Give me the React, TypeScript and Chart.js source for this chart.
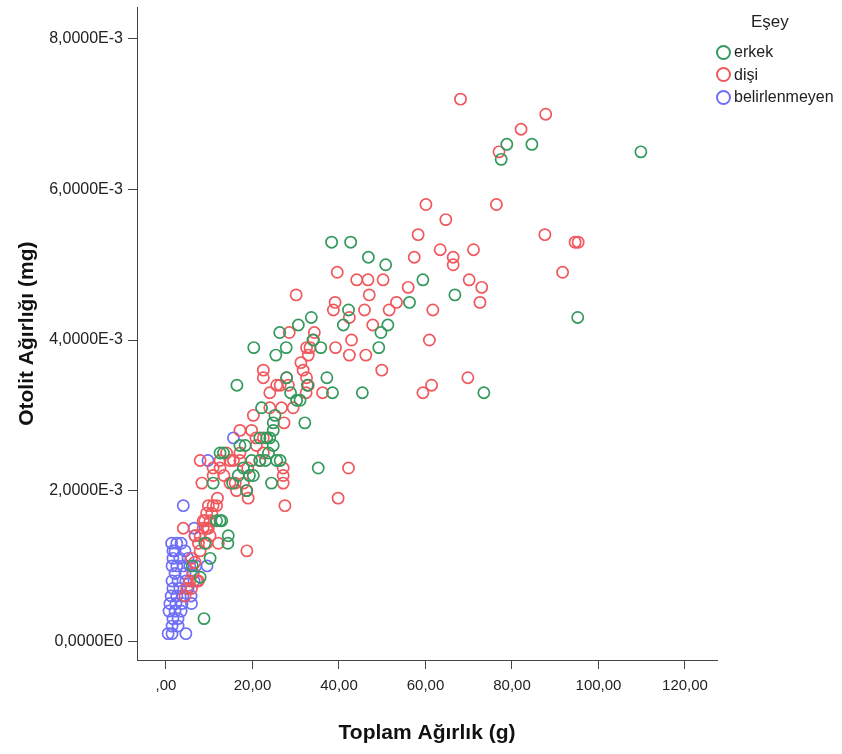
import React, { useEffect, useRef } from 'react';
import { Chart, registerables } from 'chart.js';

Chart.register(...registerables);

const Y_UNIT = 1e-3;
const xTickValues = [0, 20, 40, 60, 80, 100, 120];
const xTickLabels = [',00', '20,00', '40,00', '60,00', '80,00', '100,00', '120,00'];
const yTickValues = [0, 2, 4, 6, 8];
const yTickLabels = ['0,0000E0', '2,0000E-3', '4,0000E-3', '6,0000E-3', '8,0000E-3'];
const seriesNames = ['erkek', 'dişi', 'belirlenmeyen'];
const seriesColors = ['#33995c', '#f0585d', '#6e6ef7'];

// [Toplam Ağırlık (g), Otolit Ağırlığı (×1e-3 mg)]
const erkek: number[][] = [
  [109.8, 6.5], [84.6, 6.6], [78.8, 6.6], [77.5, 6.4], [95.2, 4.3], [73.5, 3.3], [66.8, 4.6],
  [38.3, 5.3], [42.7, 5.3], [46.8, 5.1], [50.8, 5.0], [59.4, 4.8], [56.3, 4.5], [42.2, 4.4], [41.0, 4.2], [51.3, 4.2], [49.7, 4.1], [49.2, 3.9],
  [33.6, 4.3], [30.6, 4.2], [26.3, 4.1], [27.8, 3.9], [35.8, 3.9], [34.0, 4.0], [20.3, 3.9], [25.4, 3.8],
  [37.2, 3.5], [32.7, 3.4], [38.5, 3.3], [45.4, 3.3], [28.8, 3.3], [30.2, 3.2], [32.1, 2.9], [35.2, 2.3], [26.4, 2.4], [16.4, 3.4], [27.9, 3.5], [31.0, 3.2],
  [22.1, 3.1], [25.2, 3.0], [24.8, 2.9], [24.8, 2.8], [24.8, 2.6], [25.6, 2.4],
  [21.7, 2.7], [23.3, 2.7], [24.0, 2.7], [18.3, 2.6], [17.1, 2.6], [23.7, 2.5], [21.7, 2.4], [19.8, 2.4], [17.9, 2.3], [16.7, 2.2], [19.3, 2.2], [20.2, 2.2], [24.4, 2.1],
  [13.3, 2.5], [12.5, 2.5], [10.9, 2.1], [12.9, 1.6], [12.5, 1.6], [14.4, 1.4], [14.3, 1.3], [11.7, 1.6], [9.0, 1.3], [10.2, 1.1], [6.1, 1.0], [7.9, 0.85], [8.8, 0.3],
  [18.6, 2.0], [15.4, 2.1], [23.0, 2.4],
];

const disi: number[][] = [
  [68.1, 7.2], [87.8, 7.0], [82.1, 6.8], [77.0, 6.5], [76.4, 5.8], [60.1, 5.8], [64.7, 5.6], [87.6, 5.4], [58.3, 5.4], [94.6, 5.3], [95.3, 5.3],
  [71.1, 5.2], [63.4, 5.2], [66.4, 5.1], [57.4, 5.1], [66.4, 5.0], [91.7, 4.9], [39.6, 4.9], [44.1, 4.8], [46.7, 4.8], [50.2, 4.8], [70.1, 4.8],
  [73.0, 4.7], [56.0, 4.7], [47.0, 4.6], [30.1, 4.6], [72.6, 4.5], [39.1, 4.5], [53.3, 4.5], [38.7, 4.4], [45.9, 4.4], [51.6, 4.4], [61.7, 4.4],
  [42.4, 4.3], [47.8, 4.2], [34.3, 4.1], [28.5, 4.1], [42.9, 4.0], [60.9, 4.0], [34.1, 4.0], [32.5, 3.9], [33.3, 3.9], [39.2, 3.9], [32.9, 3.8],
  [42.4, 3.8], [46.2, 3.8], [49.9, 3.6], [31.2, 3.7], [31.7, 3.6], [32.5, 3.5], [27.9, 3.5], [36.2, 3.3], [32.4, 3.3], [32.9, 3.4], [59.4, 3.3],
  [61.4, 3.4], [69.8, 3.5],
  [26.4, 3.4], [25.6, 3.4], [28.3, 3.4], [29.4, 3.1], [26.7, 3.1], [24.0, 3.1], [27.3, 2.9], [42.2, 2.3], [27.1, 2.3], [27.1, 2.2], [27.1, 2.1],
  [39.8, 1.9], [27.5, 1.8],
  [22.5, 3.6], [22.5, 3.5], [24.0, 3.3], [20.2, 3.0], [17.1, 2.8], [19.8, 2.8], [20.8, 2.7], [22.5, 2.7], [22.5, 2.5], [21.7, 2.4], [17.1, 2.4],
  [17.1, 2.5], [14.0, 2.5], [14.8, 2.4], [12.5, 2.4], [10.9, 2.3], [12.5, 2.3], [7.9, 2.4], [10.9, 2.2], [8.3, 2.1], [14.8, 2.1], [16.0, 2.1],
  [17.9, 2.1], [18.7, 2.0], [16.3, 2.0], [19.0, 1.9], [11.9, 1.9], [9.8, 1.8], [10.9, 1.8], [11.7, 1.8], [9.4, 1.7], [10.6, 1.7], [8.6, 1.6],
  [10.2, 1.6], [9.0, 1.6], [9.4, 1.5], [8.6, 1.5], [9.8, 1.5], [4.0, 1.5], [7.9, 1.4], [10.2, 1.4], [6.7, 1.4], [7.5, 1.3], [9.4, 1.3], [12.1, 1.3],
  [18.7, 1.2], [7.9, 1.2], [5.9, 1.1], [6.7, 1.05], [6.3, 0.9], [7.5, 0.8], [7.1, 0.8], [5.5, 0.8], [5.9, 0.7], [4.8, 0.7], [4.4, 0.6],
  [13.4, 2.2], [15.6, 2.4], [20.9, 2.6], [18.9, 2.3],
];

const belirlenmeyen: number[][] = [
  [4.0, 1.8], [6.5, 1.5], [6.7, 1.4], [15.6, 2.7], [9.7, 2.4], [9.5, 1.0],
  [2.5, 1.3], [3.5, 1.3], [1.3, 1.3], [4.4, 1.2], [1.6, 1.2], [2.1, 1.2],
  [1.6, 1.1], [3.2, 1.1], [5.1, 1.1],
  [1.4, 1.0], [2.5, 1.0], [4.0, 1.0], [5.5, 1.0], [6.9, 1.0],
  [2.1, 0.9], [4.4, 0.9], [6.2, 0.9],
  [1.4, 0.8], [2.8, 0.8], [4.6, 0.8], [6.5, 0.8],
  [1.6, 0.7], [3.2, 0.7], [5.1, 0.7],
  [1.2, 0.6], [2.5, 0.6], [3.9, 0.6], [5.8, 0.6],
  [0.9, 0.5], [2.3, 0.5], [3.7, 0.5], [5.9, 0.5],
  [0.7, 0.4], [2.1, 0.4], [3.5, 0.4],
  [1.6, 0.3], [2.8, 0.3],
  [1.4, 0.2], [2.8, 0.2],
  [0.5, 0.1], [1.4, 0.1], [4.6, 0.1],
];

const FONT = '"Liberation Sans", Arial, sans-serif';

export default function App() {
  const canvasRef = useRef<HTMLCanvasElement | null>(null);

  useEffect(() => {
    const ctx = canvasRef.current;
    if (!ctx) return;
    const all = [erkek, disi, belirlenmeyen];
    const chart = new Chart(ctx, {
      type: 'scatter',
      data: {
        datasets: all.map((arr, i) => ({
          label: seriesNames[i],
          data: arr.map(([x, y]) => ({ x, y: y * Y_UNIT })),
          borderColor: seriesColors[i],
          backgroundColor: 'rgba(0,0,0,0)',
          pointRadius: 5.6,
          pointBorderWidth: 1.7,
          pointHoverRadius: 5.6,
          order: i,
        })),
      },
      options: {
        animation: false,
        responsive: true,
        maintainAspectRatio: false,
        layout: { padding: { top: 5, right: 125, bottom: 0, left: 0 } },
        plugins: { legend: { display: false }, tooltip: { enabled: false } },
        scales: {
          x: {
            type: 'linear',
            min: -6.7,
            max: 127.4,
            afterBuildTicks: (s: any) => {
              s.ticks = xTickValues.map((v) => ({ value: v }));
            },
            afterFit: (s: any) => {
              s.height = 94;
              s.paddingLeft = 0;
              s.paddingRight = 0;
            },
            ticks: {
              autoSkip: false,
              maxRotation: 0,
              padding: 8,
              color: '#222',
              font: { family: FONT, size: 15 },
              callback: (_v: any, i: number) => xTickLabels[i],
            },
            grid: { drawOnChartArea: false, drawTicks: true, tickLength: 9, color: '#444' },
            border: { display: true, color: '#444', width: 1 },
            title: {
              display: true,
              text: 'Toplam Ağırlık (g)',
              color: '#111',
              font: { family: FONT, size: 21, weight: 'bold' },
              padding: { top: 0, bottom: 8 },
            },
          },
          y: {
            type: 'linear',
            min: -0.25 * Y_UNIT,
            max: 8.42 * Y_UNIT,
            afterBuildTicks: (s: any) => {
              s.ticks = yTickValues.map((v) => ({ value: v * Y_UNIT }));
            },
            afterFit: (s: any) => {
              s.width = 137;
              s.paddingTop = 0;
              s.paddingBottom = 0;
            },
            ticks: {
              autoSkip: false,
              padding: 5,
              color: '#222',
              font: { family: FONT, size: 16 },
              callback: (_v: any, i: number) => yTickLabels[i],
            },
            grid: { drawOnChartArea: false, drawTicks: true, tickLength: 9, color: '#444' },
            border: { display: true, color: '#444', width: 1 },
            title: {
              display: true,
              text: 'Otolit Ağırlığı (mg)',
              color: '#111',
              font: { family: FONT, size: 21, weight: 'bold' },
              padding: { top: 15, bottom: 0 },
            },
          },
        },
      },
    });
    return () => chart.destroy();
  }, []);

  const legendTop = [52, 74.5, 97];

  return (
    <div style={{ position: 'fixed', left: 0, top: 0, width: 842, height: 754, background: '#fff' }}>
      <canvas ref={canvasRef} />
      <div
        style={{
          position: 'absolute',
          left: 751,
          top: 12,
          fontFamily: FONT,
          fontSize: 17,
          color: '#222',
          lineHeight: '20px',
        }}
      >
        Eşey
      </div>
      {seriesNames.map((name, i) => (
        <div key={name} style={{ position: 'absolute', left: 716, top: legendTop[i] - 10, height: 20, display: 'flex', alignItems: 'center' }}>
          <div
            style={{
              width: 11,
              height: 11,
              borderRadius: '50%',
              border: `2px solid ${seriesColors[i]}`,
              marginRight: 3,
            }}
          />
          <span style={{ fontFamily: FONT, fontSize: 16, color: '#222' }}>{name}</span>
        </div>
      ))}
    </div>
  );
}
